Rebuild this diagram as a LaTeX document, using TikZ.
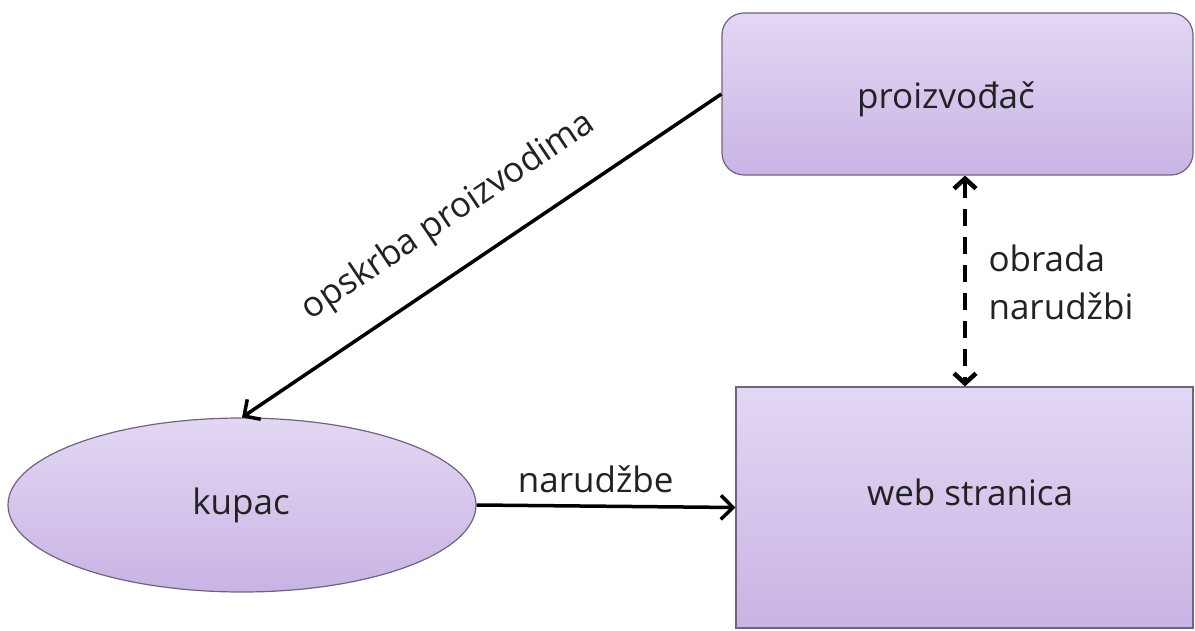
\documentclass[tikz,border=0pt]{standalone}
\usepackage{fontspec}
\setmainfont{Open Sans}
\usetikzlibrary{arrows.meta,shapes.geometric}
\definecolor{boxtop}{HTML}{E3D7F3}
\definecolor{boxbot}{HTML}{C8B4E4}
\definecolor{boxline}{HTML}{6F6382}
\definecolor{ink}{HTML}{222222}
\begin{document}
\begin{tikzpicture}[x=1pt,y=-1pt,
  box/.style={draw=boxline, line width=1.2pt, top color=boxtop, bottom color=boxbot, inner sep=0pt},
  lbl/.style={font=\fontsize{35}{48}\selectfont, text=ink},
  conn/.style={line width=3.5pt, -{Straight Barb[length=12pt,width=24pt]}},
  connrev/.style={line width=3.5pt, {Straight Barb[length=12pt,width=24pt]}-},
  dconn/.style={line width=4.5pt, dash pattern=on 17pt off 11pt, {Straight Barb[length=10pt,width=22pt]}-{Straight Barb[length=10pt,width=22pt]}}]
\useasboundingbox (0,0) rectangle (1195,631);
\fill[white] (0,0) rectangle (1195,631);
% nodes
\node[box, rounded corners=22pt, minimum width=471pt, minimum height=162pt] (prod) at (957.5,94) {};
\node[lbl] (prodtext) at (946,99) {proizvođač};
\node[box, minimum width=457pt, minimum height=241pt] (web) at (964.5,507.5) {};
\node[lbl] (webtext) at (970,492) {web stranica};
\node[box, ellipse, minimum width=468pt, minimum height=174pt] (kupac) at (242,505) {};
\node[lbl] (kupactext) at (241,505) {kupac};
\coordinate (dashx) at (965,0);
% connectors
\draw[connrev] (kupac.north) -- node[lbl, sloped, above=28pt, pos=0.49] (opsk) {opskrba proizvodima} (prod.west);
\draw[conn] (kupac.east) -- node[lbl, above=8pt, pos=0.46] (narlbl) {narudžbe} (web.west);
\draw[dconn] (prod.south -| dashx) -- (web.north -| dashx);
\node[lbl, align=left, anchor=west] (obr) at (985,282) {obrada\\narudžbi};
\end{tikzpicture}
\end{document}
